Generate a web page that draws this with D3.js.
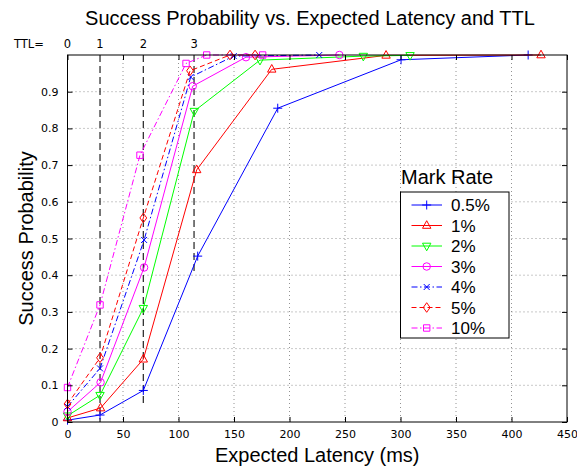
<!DOCTYPE html>
<html>
<head>
<meta charset="utf-8">
<script src="https://cdn.jsdelivr.net/npm/d3@7/dist/d3.min.js"></script>
<style>
  html, body { margin: 0; padding: 0; background: #fff; }
  svg { display: block; }
  text { font-family: "Liberation Sans", Arial, sans-serif; fill: #000; }
  .tick-label { font-family: "DejaVu Sans", sans-serif; font-size: 11px; }
</style>
</head>
<body>
<svg id="chart" width="577" height="470"></svg>
<script>
// ---------------- data ----------------
const seriesNames = ["0.5%", "1%", "2%", "3%", "4%", "5%", "10%"];
const latency05 = [0, 29.3, 68.3, 117.3, 189.4, 300.5, 415];
const prob05    = [0.005, 0.019, 0.086, 0.452, 0.855, 0.987, 1.0];
const latency1  = [0, 29.8, 68.3, 116.4, 184, 287, 426.6];
const prob1     = [0.011, 0.038, 0.171, 0.687, 0.961, 0.999, 1.0];
const latency2  = [0, 29.3, 68.3, 114.2, 173.4, 266.5, 308.6];
const prob2     = [0.017, 0.073, 0.31, 0.847, 0.986, 0.997, 0.999];
const latency3  = [0, 29.8, 69, 112.8, 160.8, 244.9];
const prob3     = [0.028, 0.108, 0.421, 0.915, 0.994, 1.0];
const latency4  = [0, 29.3, 69, 111, 149.8, 226.8];
const prob4     = [0.042, 0.146, 0.496, 0.94, 0.997, 1.0];
const latency5  = [0, 29.3, 68.3, 110.4, 146.4, 169];
const prob5     = [0.049, 0.175, 0.556, 0.957, 1.0, 1.0];
const latency10 = [0, 29.3, 65.3, 106.8, 125.4, 175.8];
const prob10    = [0.094, 0.319, 0.727, 0.977, 1.0, 1.0];

const xTicks = [0, 50, 100, 150, 200, 250, 300, 350, 400, 450];
const yTicks = [0, 0.1, 0.2, 0.3, 0.4, 0.5, 0.6, 0.7, 0.8, 0.9];
const yTickLabels = ["0", "0.1", "0.2", "0.3", "0.4", "0.5", "0.6", "0.7", "0.8", "0.9"];
const ttlLabels = ["0", "1", "2", "3"];
const ttlLatency = [0, 29.3, 68.3, 114];
const ttlLineBottom = [null, 0, 0.045, 0.41];

// ---------------- styles ----------------
const styles = [
  { color: "#0000ff", dash: null,        marker: "plus" },
  { color: "#ff0000", dash: null,        marker: "triUp" },
  { color: "#00ff00", dash: null,        marker: "triDown" },
  { color: "#ff00ff", dash: null,        marker: "circle" },
  { color: "#0000ff", dash: "6,2.5,1.5,2.5", marker: "cross" },
  { color: "#ff0000", dash: "5,3",       marker: "diamond" },
  { color: "#ff00ff", dash: "6,2.5,1.5,2.5", marker: "square" }
];
const lats = [latency05, latency1, latency2, latency3, latency4, latency5, latency10];
const probs = [prob05, prob1, prob2, prob3, prob4, prob5, prob10];

const markerPaths = {
  plus: "M-4.5,0H4.5M0,-4.5V4.5",
  triUp: "M0,-4.8L4.2,2.8L-4.2,2.8Z",
  triDown: "M0,4.8L4.2,-2.8L-4.2,-2.8Z",
  circle: d3.symbol().type(d3.symbolCircle).size(44)(),
  cross: "M-3,-3L3,3M-3,3L3,-3",
  diamond: "M0,-4.8L3.4,0L0,4.8L-3.4,0Z",
  square: "M-3.2,-3.2H3.2V3.2H-3.2Z"
};

// ---------------- layout ----------------
const svg = d3.select("#chart");
const L = 67.5, R = 567, T = 55, B = 422;
const x = d3.scaleLinear().domain([0, 450]).range([L, R]);
const y = d3.scaleLinear().domain([0, 1]).range([B, T]);

// grid
const grid = svg.append("g");
xTicks.slice(1, -1).forEach(v => {
  grid.append("line").attr("x1", x(v)).attr("x2", x(v)).attr("y1", T).attr("y2", B)
    .attr("stroke", "#777").attr("stroke-width", 0.8).attr("stroke-dasharray", "1,3");
});
yTicks.slice(1).forEach(v => {
  grid.append("line").attr("x1", L).attr("x2", R).attr("y1", y(v)).attr("y2", y(v))
    .attr("stroke", "#777").attr("stroke-width", 0.8).attr("stroke-dasharray", "1,3");
});

// TTL dashed lines
ttlLatency.forEach((v, i) => {
  if (ttlLineBottom[i] === null) return;
  svg.append("line").attr("x1", x(v)).attr("x2", x(v))
    .attr("y1", y(1)).attr("y2", y(ttlLineBottom[i]))
    .attr("stroke", "#222").attr("stroke-width", 1.2).attr("stroke-dasharray", "7,4");
});

// series
const line = d3.line().x(d => x(d[0])).y(d => y(d[1]));
lats.forEach((lat, i) => {
  const st = styles[i];
  const pts = lat.map((v, j) => [v, probs[i][j]]);
  const g = svg.append("g");
  g.append("path").attr("d", line(pts)).attr("fill", "none")
    .attr("stroke", st.color).attr("stroke-width", 1)
    .attr("stroke-dasharray", st.dash);
  g.selectAll("path.m").data(pts).enter().append("path").attr("class", "m")
    .attr("d", markerPaths[st.marker])
    .attr("transform", d => `translate(${x(d[0])},${y(d[1])})`)
    .attr("fill", "none").attr("stroke", st.color).attr("stroke-width", 1);
});

// frame
svg.append("rect").attr("x", L).attr("y", T).attr("width", R - L).attr("height", B - T)
  .attr("fill", "none").attr("stroke", "#000").attr("stroke-width", 1);

// axes (ticks inward)
const xAxisB = d3.axisBottom(x).tickValues(xTicks).tickSize(-5).tickFormat(d3.format("d")).tickPadding(8);
const gxb = svg.append("g").attr("transform", `translate(0,${B})`).call(xAxisB);
const xAxisT = d3.axisTop(x).tickValues(xTicks).tickSize(-5).tickFormat("");
svg.append("g").attr("transform", `translate(0,${T})`).call(xAxisT);
const yAxisL = d3.axisLeft(y).tickValues(yTicks).tickSize(-5)
  .tickFormat((d, i) => yTickLabels[i]).tickPadding(9);
const gyl = svg.append("g").attr("transform", `translate(${L},0)`).call(yAxisL);
const yAxisR = d3.axisRight(y).tickValues(yTicks).tickSize(-5).tickFormat("");
svg.append("g").attr("transform", `translate(${R},0)`).call(yAxisR);
svg.selectAll(".domain").remove();
svg.selectAll(".tick line").attr("stroke", "#000");
svg.selectAll(".tick text").attr("class", "tick-label").attr("fill", "#000");
gxb.selectAll(".tick text").attr("dy", "0.71em");

// top TTL axis labels
const tg = svg.append("g");
tg.append("text").attr("class", "tick-label").attr("x", 14).attr("y", 48)
  .style("font-size", "11.5px").text("TTL=");
ttlLatency.forEach((v, i) => {
  tg.append("text").attr("class", "tick-label").attr("x", x(v)).attr("y", 48)
    .attr("text-anchor", "middle").style("font-size", "11.5px").text(ttlLabels[i]);
});

// titles
svg.append("text").attr("x", 310).attr("y", 25).attr("text-anchor", "middle")
  .style("font-size", "20px").text("Success Probability vs. Expected Latency and TTL");
svg.append("text").attr("x", (L + R) / 2).attr("y", 462).attr("text-anchor", "middle")
  .style("font-size", "20px").text("Expected Latency (ms)");
svg.append("text").attr("transform", `translate(33,${(T + B) / 2}) rotate(-90)`)
  .attr("text-anchor", "middle").style("font-size", "20px").text("Success Probability");

// legend
const lg = svg.append("g");
lg.append("text").attr("x", 401).attr("y", 184).style("font-size", "20px").text("Mark Rate");
lg.append("rect").attr("x", 400.5).attr("y", 192).attr("width", 108.5).attr("height", 146)
  .attr("fill", "#fff").attr("stroke", "#000").attr("stroke-width", 1);
seriesNames.forEach((name, i) => {
  const st = styles[i];
  const ry = 205 + i * 20.5;
  lg.append("line").attr("x1", 411.5).attr("x2", 442).attr("y1", ry).attr("y2", ry)
    .attr("stroke", st.color).attr("stroke-width", 1).attr("stroke-dasharray", st.dash);
  lg.append("path").attr("d", markerPaths[st.marker])
    .attr("transform", `translate(426.7,${ry})`)
    .attr("fill", "none").attr("stroke", st.color).attr("stroke-width", 1);
  lg.append("text").attr("x", 451).attr("y", ry + 6).style("font-size", "17px").text(name);
});
</script>
</body>
</html>
